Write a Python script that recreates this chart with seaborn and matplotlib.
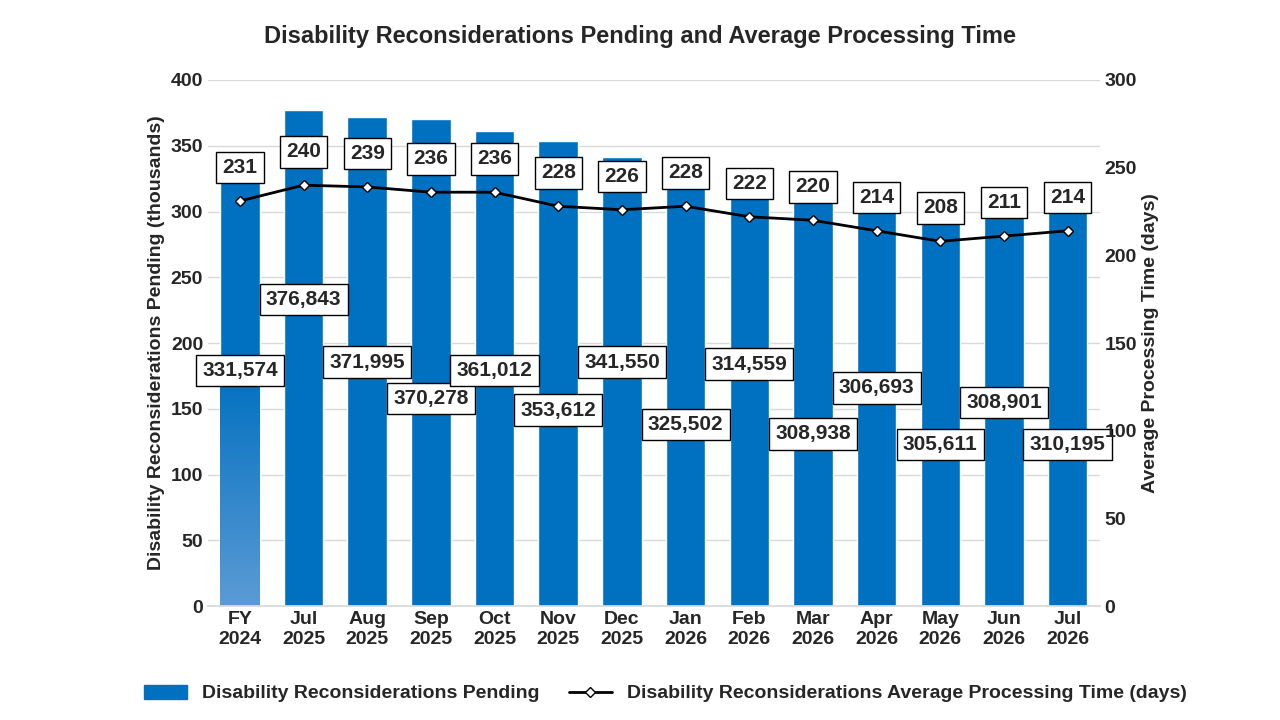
import matplotlib.pyplot as plt
import matplotlib.patches as mpatches
from matplotlib.lines import Line2D
import numpy as np
import pandas as pd
import seaborn as sns

sns.set_theme(style='white')
plt.rcParams['font.family'] = ['Liberation Sans', 'DejaVu Sans']
plt.rcParams['font.weight'] = 'bold'

# Data
months = ['FY\n2024', 'Jul\n2025', 'Aug\n2025', 'Sep\n2025', 'Oct\n2025', 'Nov\n2025', 'Dec\n2025',
          'Jan\n2026', 'Feb\n2026', 'Mar\n2026', 'Apr\n2026', 'May\n2026', 'Jun\n2026', 'Jul\n2026']
pending = [331574, 376843, 371995, 370278, 361012, 353612, 341550,
           325502, 314559, 308938, 306693, 305611, 308901, 310195]
days = [231, 240, 239, 236, 236, 228, 226, 228, 222, 220, 214, 208, 211, 214]
# label heights (thousands)
label_y = [179, 233, 185.5, 158, 179, 149, 185.5, 138, 184, 131, 166, 123, 155, 123]

df = pd.DataFrame({'month': months, 'pending': np.array(pending) / 1000, 'days': days})

blue = '#0070C0'
fig = plt.figure(figsize=(12.8, 7.2), dpi=100)
ax = fig.add_axes([0.1625, 0.158, 0.6965, 0.731])
sns.barplot(data=df, x='month', y='pending', color=blue, saturation=1, width=0.62, ax=ax, zorder=2)

# gradient on first bar
first = ax.patches[0]
grad = np.linspace(0, 1, 256).reshape(-1, 1)
from matplotlib.colors import LinearSegmentedColormap
cmap = LinearSegmentedColormap.from_list('g', ['#5B9BD5', blue])
x0, w = first.get_x(), first.get_width()
im = ax.imshow(grad, cmap=cmap, origin='lower', aspect='auto',
               extent=[x0, x0 + w, 0, 180], zorder=2.5)
im.set_clip_path(first)

ax.set_ylim(0, 400)
ax.set_xlim(-0.5, len(months) - 0.5)
ax.set_yticks(range(0, 401, 50))
ax.grid(axis='y', color='#D9D9D9', lw=1, zorder=0)
for s in ['top', 'right', 'left']:
    ax.spines[s].set_visible(False)
ax.spines['bottom'].set_color('#D9D9D9')
ax.set_xlabel('')
ax.set_ylabel('Disability Reconsiderations Pending (thousands)', fontsize=14, fontweight='bold')
ax.tick_params(axis='both', labelsize=14, length=0)
for t in ax.get_xticklabels() + ax.get_yticklabels():
    t.set_fontweight('bold')

box = dict(boxstyle='square,pad=0.3', fc='white', ec='black', lw=1)
for i, (v, ly) in enumerate(zip(pending, label_y)):
    ax.text(i, ly, f'{v:,}', ha='center', va='center', fontsize=15, fontweight='bold',
            bbox=box, zorder=5)

ax2 = ax.twinx()
ax2.plot(range(len(days)), days, color='black', lw=2, marker='D', markersize=5,
         markerfacecolor='white', markeredgecolor='black', zorder=4)
ax2.set_ylim(0, 300)
ax2.set_yticks(range(0, 301, 50))
ax2.grid(False)
for s in ['top', 'right', 'left', 'bottom']:
    ax2.spines[s].set_visible(False)
ax2.set_ylabel('Average Processing Time (days)', fontsize=14, fontweight='bold')
ax2.tick_params(axis='y', labelsize=14, length=0)
for t in ax2.get_yticklabels():
    t.set_fontweight('bold')
for i, d in enumerate(days):
    ax2.annotate(str(d), (i, d), xytext=(0, 24), textcoords='offset points', ha='center',
                 va='center', fontsize=15, fontweight='bold', bbox=box, zorder=6)

fig.suptitle('Disability Reconsiderations Pending and Average Processing Time',
             fontsize=17, fontweight='bold', y=0.965)

handles = [mpatches.Patch(color=blue, label='Disability Reconsiderations Pending'),
           Line2D([0], [0], color='black', lw=2, marker='D', markersize=5, markerfacecolor='white',
                  label='Disability Reconsiderations Average Processing Time (days)')]
fig.legend(handles=handles, loc='lower center', bbox_to_anchor=(0.52, 0.0), ncol=2, frameon=False,
           prop={'size': 14, 'weight': 'bold'}, handlelength=2.2, columnspacing=1.5)

fig.savefig('out.png', dpi=100)
